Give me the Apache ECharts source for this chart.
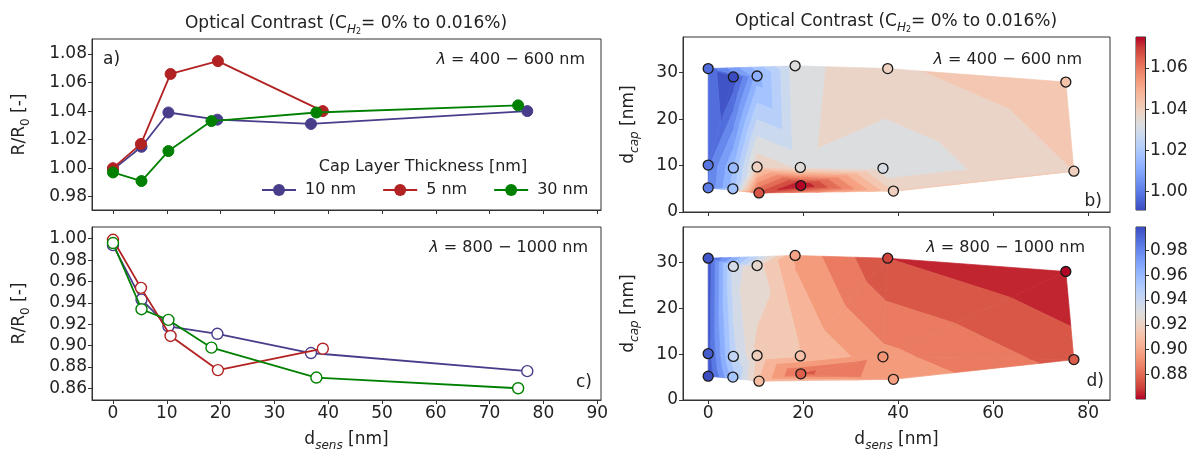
<!DOCTYPE html>
<html>
<head>
<meta charset="utf-8">
<script src="https://cdn.jsdelivr.net/npm/echarts@6.0.0/dist/echarts.min.js"></script>
<style>
html, body { margin: 0; padding: 0; background: #fff; }
#main { width: 1198px; height: 453px; }
</style>
</head>
<body>
<div id="main"></div>
<script>
// sensing layer thickness d_sens [nm], per cap layer series
var dSens10 = [0, 5.3, 10.3, 19.4, 36.8, 77.0];
var dSens5  = [0, 5.2, 10.7, 19.5, 39.0];
var dSens30 = [0, 5.3, 10.3, 18.3, 37.8, 75.3];
// measured cap layer thickness d_cap [nm]
var dCap10 = [10.1, 9.5, 9.7, 9.6, 9.4, 8.8];
var dCap5  = [5.2, 5.0, 4.1, 5.7, 4.5];
var dCap30 = [30.9, 29.1, 29.3, 31.5, 30.9, 28.0];
// R/R0, lambda = 400-600 nm
var vis10 = [0.999, 1.015, 1.039, 1.034, 1.031, 1.040];
var vis5  = [1.000, 1.017, 1.066, 1.075, 1.040];
var vis30 = [0.997, 0.991, 1.012, 1.033, 1.039, 1.044];
// R/R0, lambda = 800-1000 nm
var nir10 = [0.994, 0.943, 0.918, 0.911, 0.893, 0.876];
var nir5  = [0.999, 0.954, 0.909, 0.877, 0.897];
var nir30 = [0.996, 0.934, 0.924, 0.898, 0.870, 0.860];

var seriesNames = ['10 nm', '5 nm', '30 nm'];
var xTicksLeft = [0, 10, 20, 30, 40, 50, 60, 70, 80, 90];
var yTicksA = [0.98, 1.00, 1.02, 1.04, 1.06, 1.08];
var yTicksC = [0.86, 0.88, 0.90, 0.92, 0.94, 0.96, 0.98, 1.00];
var xTicksRight = [0, 20, 40, 60, 80];
var yTicksRight = [0, 10, 20, 30];
var cbTicksB = [1.00, 1.02, 1.04, 1.06];
var cbTicksD = [0.88, 0.90, 0.92, 0.94, 0.96, 0.98];
// contour level spacing
var levelStepB = 0.005;
var levelStepD = 0.01;

var FONT = 'DejaVu Sans';
var lineColors = ['#483d8b', '#b22222', '#008000'];

// coolwarm colormap
var cw = [[59,76,192],[77,104,215],[98,130,234],[119,154,247],[141,176,254],[163,194,255],
  [184,208,249],[204,217,238],[221,221,221],[236,211,197],[245,196,172],[247,177,148],
  [244,154,123],[236,127,99],[222,96,77],[203,62,56],[180,4,38]];
function coolwarm(t) {
  t = Math.max(0, Math.min(1, t));
  var f = t * (cw.length - 1), i = Math.min(Math.floor(f), cw.length - 2), r = f - i;
  var c = [0, 1, 2].map(function (k) { return Math.round(cw[i][k] + (cw[i + 1][k] - cw[i][k]) * r); });
  return 'rgb(' + c.join(',') + ')';
}
function colorOf(v, lo, hi, rev) {
  var t = (v - lo) / (hi - lo);
  return coolwarm(rev ? 1 - t : t);
}

// simple Bowyer-Watson triangulation
function circ(a, b, c) {
  var d = 2 * (a[0] * (b[1] - c[1]) + b[0] * (c[1] - a[1]) + c[0] * (a[1] - b[1]));
  if (Math.abs(d) < 1e-9) return null;
  var a2 = a[0] * a[0] + a[1] * a[1], b2 = b[0] * b[0] + b[1] * b[1], c2 = c[0] * c[0] + c[1] * c[1];
  var ux = (a2 * (b[1] - c[1]) + b2 * (c[1] - a[1]) + c2 * (a[1] - b[1])) / d;
  var uy = (a2 * (c[0] - b[0]) + b2 * (a[0] - c[0]) + c2 * (b[0] - a[0])) / d;
  return [ux, uy, (a[0] - ux) * (a[0] - ux) + (a[1] - uy) * (a[1] - uy)];
}
function delaunay(pts) {
  var n = pts.length, P = pts.slice();
  P.push([-1e4, -1e4], [1e4, -1e4], [0, 1e4]);
  var tris = [[n, n + 1, n + 2]];
  for (var i = 0; i < n; i++) {
    var p = P[i], bad = [], keep = [];
    tris.forEach(function (t) {
      var cc = circ(P[t[0]], P[t[1]], P[t[2]]);
      var inside = !cc || ((p[0] - cc[0]) * (p[0] - cc[0]) + (p[1] - cc[1]) * (p[1] - cc[1]) < cc[2]);
      (inside ? bad : keep).push(t);
    });
    bad.forEach(function (t) {
      [[t[0], t[1]], [t[1], t[2]], [t[2], t[0]]].forEach(function (e) {
        var shared = bad.some(function (u) {
          return u !== t && u.indexOf(e[0]) >= 0 && u.indexOf(e[1]) >= 0;
        });
        if (!shared) keep.push([e[0], e[1], i]);
      });
    });
    tris = keep;
  }
  return tris.filter(function (t) {
    if (!(t[0] < n && t[1] < n && t[2] < n)) return false;
    var a = P[t[0]], b = P[t[1]], c = P[t[2]];
    return Math.abs((b[0] - a[0]) * (c[1] - a[1]) - (c[0] - a[0]) * (b[1] - a[1])) > 1e-6;
  });
}
// keep part of polygon above / below a level (value is linear in a triangle)
function clip(poly, lvl, above) {
  var out = [];
  for (var i = 0; i < poly.length; i++) {
    var a = poly[i], b = poly[(i + 1) % poly.length];
    var ina = above ? a[2] >= lvl : a[2] <= lvl;
    var inb = above ? b[2] >= lvl : b[2] <= lvl;
    if (ina) out.push(a);
    if (ina !== inb) {
      var t = (lvl - a[2]) / (b[2] - a[2]);
      out.push([a[0] + t * (b[0] - a[0]), a[1] + t * (b[1] - a[1]), lvl]);
    }
  }
  return out;
}

function mapPanel(vals) {
  var xs = dSens10.concat(dSens5, dSens30);
  var ys = dCap10.concat(dCap5, dCap30);
  var vs = vals[0].concat(vals[1], vals[2]);
  return { pts: xs.map(function (x, i) { return [x, ys[i]]; }), vs: vs,
    lo: Math.min.apply(null, vs), hi: Math.max.apply(null, vs) };
}
var panB = mapPanel([vis10, vis5, vis30]);
var panD = mapPanel([nir10, nir5, nir30]);

function contourSeries(pan, rev, ax, step) {
  var tris = delaunay(pan.pts);
  var levels = [];
  var k0 = Math.floor(pan.lo / step + 1e-9), k1 = Math.ceil(pan.hi / step - 1e-9);
  for (var k = k0; k <= k1; k++) levels.push(k * step);
  return {
    type: 'custom', xAxisIndex: ax, yAxisIndex: ax, silent: true, z: 1,
    data: [[0, 0]],
    renderItem: function (params, api) {
      var children = [];
      tris.forEach(function (t) {
        var poly = t.map(function (i) {
          var c = api.coord(pan.pts[i]);
          return [c[0], c[1], pan.vs[i]];
        });
        for (var k = 0; k < levels.length - 1; k++) {
          var p = clip(clip(poly, levels[k], true), levels[k + 1], false);
          if (p.length < 3) continue;
          var col = colorOf((levels[k] + levels[k + 1]) / 2, pan.lo, pan.hi, rev);
          children.push({
            type: 'polygon',
            shape: { points: p.map(function (q) { return [q[0], q[1]]; }) },
            style: { fill: col, stroke: col, lineWidth: 0.7 }
          });
        }
      });
      return { type: 'group', children: children };
    }
  };
}
function pointsSeries(pan, rev, ax) {
  return {
    type: 'scatter', xAxisIndex: ax, yAxisIndex: ax, silent: true, z: 5,
    symbolSize: 10,
    data: pan.pts.map(function (p, i) { return [p[0], p[1], pan.vs[i]]; }),
    itemStyle: {
      color: function (d) { return colorOf(d.data[2], pan.lo, pan.hi, rev); },
      borderColor: '#1a1a1a', borderWidth: 1.3, opacity: 1
    }
  };
}
function colorbarSeries(pan, rev, ax) {
  var stops = cw.map(function (c, i) {
    var j = rev ? cw.length - 1 - i : i;
    return { offset: i / (cw.length - 1), color: 'rgb(' + cw[j].join(',') + ')' };
  });
  return {
    type: 'custom', xAxisIndex: ax, yAxisIndex: ax, silent: true,
    data: [[0, 0]],
    renderItem: function (params, api) {
      var p0 = api.coord([0, pan.lo]), p1 = api.coord([1, pan.hi]);
      return { type: 'rect',
        shape: { x: p0[0], y: p1[1], width: p1[0] - p0[0], height: p0[1] - p1[1] },
        style: { fill: new echarts.graphic.LinearGradient(0, 1, 0, 0, stops) } };
    }
  };
}

var richSub = {
  n: { fontSize: 17, fontFamily: FONT, color: '#222', lineHeight: 24 },
  s: { fontSize: 12, fontFamily: FONT, color: '#222', lineHeight: 14, verticalAlign: 'bottom' },
  si: { fontSize: 12, fontFamily: FONT, fontStyle: 'italic', color: '#222', lineHeight: 14, verticalAlign: 'bottom' },
  ss: { fontSize: 8, fontFamily: FONT, color: '#222', lineHeight: 8, verticalAlign: 'bottom' },
  i: { fontSize: 16, fontFamily: FONT, fontStyle: 'italic', color: '#222', lineHeight: 24 },
  m: { fontSize: 16, fontFamily: FONT, color: '#222', lineHeight: 24 }
};

function valAxis(grid, min, max, ticks, showLabel, fmt, extra) {
  var a = {
    type: 'value', gridIndex: grid, min: min, max: max,
    axisLine: { show: true, onZero: false, lineStyle: { color: '#333', width: 1 } },
    axisTick: { show: true, length: 4, lineStyle: { color: '#333' }, customValues: ticks },
    axisLabel: { show: showLabel, customValues: ticks, fontSize: 17, fontFamily: FONT, color: '#222',
      margin: 5, formatter: fmt },
    splitLine: { show: false }
  };
  return Object.assign(a, extra || {});
}
var fmt0 = function (v) { return String(Math.round(v)); };
var fmt2 = function (v) { return v.toFixed(2); };
var hidden = function (g) { return { type: 'value', gridIndex: g, min: 0, max: 1, show: false }; };

var xName = '{n|d}{si|sens}{n| [nm]}';
var capName = '{n|d}{si|cap}{n| [nm]}';
var rName = '{n|R/R}{s|0}{n| [-]}';

function lineSeries(ax, xs, ys, i, hollow, name) {
  return {
    type: 'line', name: name, xAxisIndex: ax, yAxisIndex: ax, z: 3 + i,
    data: xs.map(function (x, k) { return [x, ys[k]]; }),
    symbol: 'circle', symbolSize: 11, showSymbol: true,
    lineStyle: { color: lineColors[i], width: 1.8 },
    itemStyle: hollow ? { color: '#fff', borderColor: lineColors[i], borderWidth: 1.4 }
                      : { color: lineColors[i], borderColor: lineColors[i] }
  };
}

var titleText = '{n|Optical Contrast (C}{si|H}{ss|2}{n|= 0% to 0.016%)}';
function txt(x, y, text, align) {
  return { type: 'text', x: x, y: y, z: 20, silent: true,
    style: { text: text, rich: richSub, align: align, verticalAlign: 'middle',
      fontSize: 17, fontFamily: FONT, fill: '#222' } };
}

var myChart = echarts.init(document.getElementById('main'));
var option = {
  animation: false,
  backgroundColor: '#fff',
  grid: [
    { left: 92, top: 39, width: 509, height: 171, show: true, borderColor: '#333', borderWidth: 1 },
    { left: 92, top: 227, width: 509, height: 173, show: true, borderColor: '#333', borderWidth: 1 },
    { left: 683, top: 37, width: 427, height: 175, show: true, borderColor: '#333', borderWidth: 1 },
    { left: 683, top: 227, width: 427, height: 173, show: true, borderColor: '#333', borderWidth: 1 },
    { left: 1136, top: 37, width: 9, height: 173, show: true, borderColor: '#333', borderWidth: 1 },
    { left: 1136, top: 227, width: 9, height: 172, show: true, borderColor: '#333', borderWidth: 1 }
  ],
  xAxis: [
    valAxis(0, -3.9, 90.7, xTicksLeft, false, fmt0),
    valAxis(1, -3.9, 90.7, xTicksLeft, true, fmt0,
      { name: xName, nameLocation: 'middle', nameGap: 28, nameTextStyle: { rich: richSub } }),
    valAxis(2, -5.3, 84.6, xTicksRight, false, fmt0),
    valAxis(3, -5.3, 84.6, xTicksRight, true, fmt0,
      { name: xName, nameLocation: 'middle', nameGap: 28, nameTextStyle: { rich: richSub } }),
    hidden(4), hidden(5)
  ],
  yAxis: [
    valAxis(0, 0.9707, 1.0905, yTicksA, true, fmt2,
      { name: rName, nameLocation: 'middle', nameRotate: 90, nameGap: 60, nameTextStyle: { rich: richSub } }),
    valAxis(1, 0.849, 1.011, yTicksC, true, fmt2,
      { name: rName, nameLocation: 'middle', nameRotate: 90, nameGap: 60, nameTextStyle: { rich: richSub } }),
    valAxis(2, 0, 37.7, yTicksRight, true, fmt0,
      { name: capName, nameLocation: 'middle', nameRotate: 90, nameGap: 42, nameTextStyle: { rich: richSub } }),
    valAxis(3, 0, 37.7, yTicksRight, true, fmt0,
      { name: capName, nameLocation: 'middle', nameRotate: 90, nameGap: 42, nameTextStyle: { rich: richSub } }),
    valAxis(4, panB.lo, panB.hi, cbTicksB, true, fmt2, { position: 'right' }),
    valAxis(5, panD.lo, panD.hi, cbTicksD, true, fmt2, { position: 'right' })
  ],
  legend: {
    data: seriesNames, left: 256, top: 177, itemWidth: 34, itemHeight: 15, itemGap: 26,
    textStyle: { fontSize: 16, fontFamily: FONT, color: '#222', padding: [0, 0, 0, 4] }
  },
  graphic: [
    txt(346, 24, titleText, 'center'),
    txt(896, 22, titleText, 'center'),
    txt(423, 167, '{m|Cap Layer Thickness [nm]}', 'center'),
    txt(585, 60, '{i|λ}{m| = 400 − 600 nm}', 'right'),
    txt(1082, 60, '{i|λ}{m| = 400 − 600 nm}', 'right'),
    txt(588, 248, '{i|λ}{m| = 800 − 1000 nm}', 'right'),
    txt(1085, 248, '{i|λ}{m| = 800 − 1000 nm}', 'right'),
    txt(103, 60, '{n|a)}', 'left'),
    txt(1102, 202, '{n|b)}', 'right'),
    txt(592, 383, '{n|c)}', 'right'),
    txt(1104, 382, '{n|d)}', 'right')
  ],
  series: [
    lineSeries(0, dSens10, vis10, 0, false, seriesNames[0]),
    lineSeries(0, dSens5, vis5, 1, false, seriesNames[1]),
    lineSeries(0, dSens30, vis30, 2, false, seriesNames[2]),
    lineSeries(1, dSens10, nir10, 0, true, 'c ' + seriesNames[0]),
    lineSeries(1, dSens5, nir5, 1, true, 'c ' + seriesNames[1]),
    lineSeries(1, dSens30, nir30, 2, true, 'c ' + seriesNames[2]),
    contourSeries(panB, false, 2, levelStepB),
    pointsSeries(panB, false, 2),
    contourSeries(panD, true, 3, levelStepD),
    pointsSeries(panD, true, 3),
    colorbarSeries(panB, false, 4),
    colorbarSeries(panD, true, 5)
  ]
};
myChart.setOption(option);
</script>
</body>
</html>
